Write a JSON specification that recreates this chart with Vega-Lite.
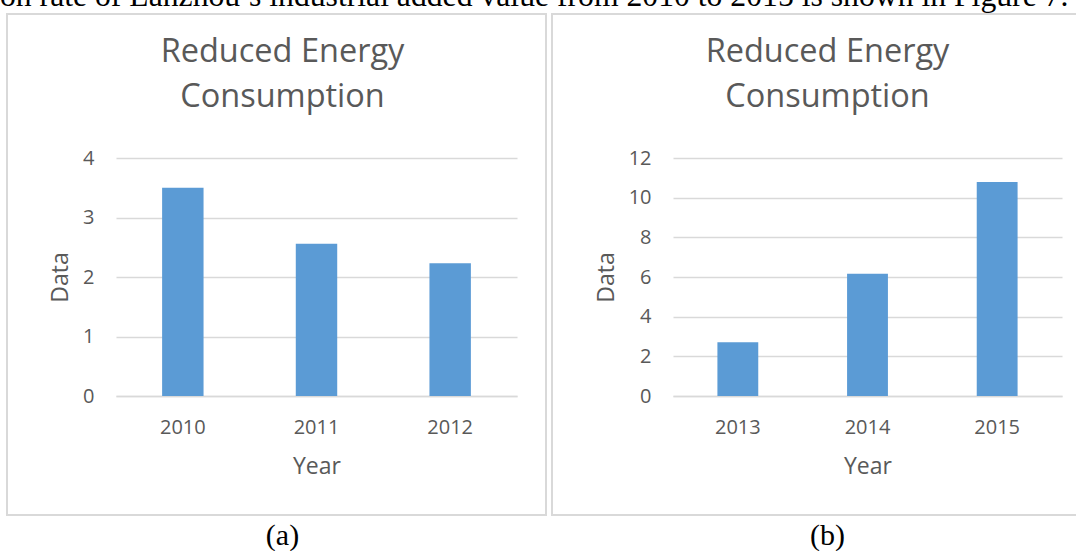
{
  "$schema": "https://vega.github.io/schema/vega-lite/v6.json",
  "padding": {"left": 0, "top": -19, "right": 0, "bottom": 0},
  "background": "white",
  "datasets": {
    "a": [
      {"Year": "2010", "Data": 3.5},
      {"Year": "2011", "Data": 2.56},
      {"Year": "2012", "Data": 2.23}
    ],
    "b": [
      {"Year": "2013", "Data": 2.71},
      {"Year": "2014", "Data": 6.17},
      {"Year": "2015", "Data": 10.79}
    ]
  },
  "title": {
    "text": "on rate of Lanzhou’s industrial added value from 2010 to 2015 is shown in Figure 7.",
    "anchor": "start",
    "frame": "bounds",
    "font": "Liberation Serif",
    "fontSize": 31.7,
    "fontWeight": "normal",
    "color": "#000000",
    "baseline": "alphabetic",
    "offset": -25,
    "dx": -6
  },
  "spacing": 4,
  "hconcat": [
    {
      "width": 539,
      "height": 501,
      "data": {"name": "a"},
      "title": {
        "text": ["Reduced Energy", "Consumption"],
        "subtitle": "(a)",
        "anchor": "middle",
        "frame": "group",
        "font": "Open Sans",
        "fontSize": 32.5,
        "fontWeight": "normal",
        "lineHeight": 45,
        "color": "#595959",
        "subtitleFont": "Liberation Serif",
        "subtitleFontSize": 30,
        "subtitleColor": "#000000",
        "subtitlePadding": 408,
        "offset": -537,
        "dx": 6
      },
      "mark": {"type": "bar", "color": "#5b9bd5"},
      "encoding": {
        "x": {
          "field": "Year",
          "type": "nominal",
          "scale": {"range": [109, 510], "paddingInner": 0.69, "paddingOuter": 0.345},
          "axis": {"title": "Year", "offset": -119, "labelPadding": 21, "titlePadding": 18}
        },
        "y": {
          "field": "Data",
          "type": "quantitative",
          "scale": {"domain": [0, 4], "range": [382, 144], "nice": false},
          "axis": {"title": "Data", "values": [0, 1, 2, 3, 4], "offset": -109, "labelPadding": 22, "titlePadding": 10}
        }
      }
    },
    {
      "width": 539,
      "height": 501,
      "data": {"name": "b"},
      "title": {
        "text": ["Reduced Energy", "Consumption"],
        "subtitle": "(b)",
        "anchor": "middle",
        "frame": "group",
        "font": "Open Sans",
        "fontSize": 32.5,
        "fontWeight": "normal",
        "lineHeight": 45,
        "color": "#595959",
        "subtitleFont": "Liberation Serif",
        "subtitleFontSize": 30,
        "subtitleColor": "#000000",
        "subtitlePadding": 408,
        "offset": -537,
        "dx": 6
      },
      "mark": {"type": "bar", "color": "#5b9bd5"},
      "encoding": {
        "x": {
          "field": "Year",
          "type": "nominal",
          "scale": {"range": [121, 510], "paddingInner": 0.685, "paddingOuter": 0.3425},
          "axis": {"title": "Year", "offset": -119, "labelPadding": 21, "titlePadding": 18}
        },
        "y": {
          "field": "Data",
          "type": "quantitative",
          "scale": {"domain": [0, 12], "range": [382, 144], "nice": false},
          "axis": {"title": "Data", "values": [0, 2, 4, 6, 8, 10, 12], "offset": -121, "labelPadding": 22, "titlePadding": 10}
        }
      }
    }
  ],
  "config": {
    "view": {"stroke": "#d9d9d9", "strokeWidth": 2},
    "axis": {
      "labelFont": "Open Sans",
      "labelFontSize": 20,
      "labelColor": "#595959",
      "titleFont": "Open Sans",
      "titleFontSize": 23,
      "titleFontWeight": "normal",
      "titleColor": "#595959",
      "ticks": false,
      "gridColor": "#d9d9d9",
      "gridWidth": 1.5,
      "domainColor": "#d9d9d9",
      "domainWidth": 1.5
    },
    "axisX": {"labelAngle": 0, "grid": false},
    "axisY": {"domain": false, "grid": true}
  }
}
